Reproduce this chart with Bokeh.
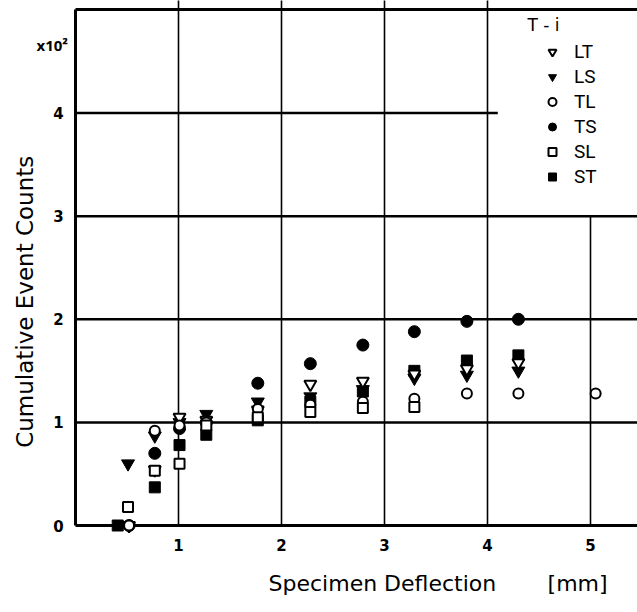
import math
from bokeh.plotting import figure
from bokeh.models import Range1d, Label, Legend, LegendItem
from bokeh.core.properties import value
from bokeh.embed import file_html
from bokeh.resources import INLINE

# ---------------- data ----------------
lt_x = [0.52, 0.77, 1.01, 1.27, 1.77, 2.28, 2.79, 3.29, 3.80, 4.30]
lt_y = [0.00, 0.54, 1.05, 1.02, 1.12, 1.37, 1.40, 1.47, 1.52, 1.58]

ls_x = [0.51, 0.77, 1.01, 1.27, 1.77, 2.28, 2.79, 3.29, 3.80, 4.30]
ls_y = [0.60, 0.87, 1.00, 1.08, 1.20, 1.25, 1.32, 1.43, 1.46, 1.50]

tl_x = [0.52, 0.77, 1.01, 1.27, 1.77, 2.28, 2.79, 3.29, 3.80, 4.30, 5.05]
tl_y = [0.00, 0.92, 0.97, 1.00, 1.13, 1.17, 1.20, 1.23, 1.28, 1.28, 1.28]

ts_x = [0.52, 0.77, 1.01, 1.27, 1.77, 2.28, 2.79, 3.29, 3.80, 4.30]
ts_y = [0.00, 0.70, 0.94, 1.00, 1.38, 1.57, 1.75, 1.88, 1.98, 2.00]

sl_x = [0.51, 0.77, 1.01, 1.27, 1.77, 2.28, 2.79, 3.29]
sl_y = [0.18, 0.53, 0.60, 0.97, 1.05, 1.10, 1.14, 1.15]

st_x = [0.41, 0.77, 1.01, 1.27, 1.77, 2.28, 2.79, 3.29, 3.80, 4.30]
st_y = [0.00, 0.37, 0.78, 0.88, 1.02, 1.20, 1.30, 1.50, 1.60, 1.65]

x_ticks = [1, 2, 3, 4, 5]
y_ticks = [0, 1, 2, 3, 4]
x_tick_labels = ["1", "2", "3", "4", "5"]
y_tick_labels = ["0", "1", "2", "3", "4"]

# grid lines of the original sheet (some are cut short by the legend)
hgrid_y = [1, 2, 3, 4]
hgrid_x_end = [5.6, 5.6, 5.6, 4.1]
vgrid_x = [1, 2, 3, 4, 5]
vgrid_y_end = [5.1, 5.1, 5.1, 5.1, 3.0]
y_top = 5.005

x_title = "Specimen Deflection"
x_unit = "[mm]"
y_title = "Cumulative Event Counts"
y_scale = "x10\u00b2"
legend_title = "T - i"

# ---------------- figure: the frame covers the whole canvas ----------------
W, H = 637, 612
PX_X, PX_Y = 103.0, 103.1      # pixels per unit
X0_PX, Y0_PX = 75, 525         # page position of the origin
p = figure(width=W, height=H, output_backend="svg", toolbar_location=None,
           x_range=Range1d(-X0_PX / PX_X, (W - X0_PX) / PX_X),
           y_range=Range1d((Y0_PX - H) / PX_Y, Y0_PX / PX_Y),
           min_border=0)
p.outline_line_color = None
p.xaxis.visible = False
p.yaxis.visible = False
p.xgrid.grid_line_color = None
p.ygrid.grid_line_color = None
p.background_fill_color = "white"
p.border_fill_color = "white"

FONT = "DejaVu Sans"

# grid lines
p.segment(x0=[0] * len(hgrid_y), y0=hgrid_y, x1=hgrid_x_end, y1=hgrid_y,
          line_color="black", line_width=2.5)
p.segment(x0=vgrid_x, y0=[0] * len(vgrid_x), x1=vgrid_x, y1=vgrid_y_end,
          line_color="black", line_width=1.6)
# frame lines (x axis, y axis, top border)
p.segment(x0=[0, 0, 0], y0=[0, 0, y_top], x1=[5.6, 0, 5.6],
          y1=[0, y_top, y_top], line_color="black", line_width=3)

# tick labels
p.text(x=x_ticks, y=[-0.19] * len(x_ticks), text=x_tick_labels,
       text_font=value(FONT), text_font_style="bold", text_font_size="15px",
       text_align="center", text_baseline="middle", text_color="black")
p.text(x=[-0.115] * len(y_ticks), y=y_ticks, text=y_tick_labels,
       text_font=value(FONT), text_font_style="bold", text_font_size="15px",
       text_align="right", text_baseline="middle", text_color="black")

# data: filled first, open (white-filled) on top
r_ls = p.scatter(ls_x, ls_y, marker="inverted_triangle", size=13,
                 fill_color="black", line_color="black")
r_ts = p.scatter(ts_x, ts_y, marker="circle", size=12,
                 fill_color="black", line_color="black")
r_st = p.scatter(st_x, st_y, marker="square", size=11,
                 fill_color="black", line_color="black")
r_lt = p.scatter(lt_x, lt_y, marker="inverted_triangle", size=12,
                 fill_color="white", line_color="black", line_width=2)
r_tl = p.scatter(tl_x, tl_y, marker="circle", size=10,
                 fill_color="white", line_color="black", line_width=2)
r_sl = p.scatter(sl_x, sl_y, marker="square", size=10,
                 fill_color="white", line_color="black", line_width=2)

legend = Legend(items=[
    LegendItem(label="LT", renderers=[r_lt]),
    LegendItem(label="LS", renderers=[r_ls]),
    LegendItem(label="TL", renderers=[r_tl]),
    LegendItem(label="TS", renderers=[r_ts]),
    LegendItem(label="SL", renderers=[r_sl]),
    LegendItem(label="ST", renderers=[r_st]),
], location="top_right", margin=39, padding=6, spacing=0,
    glyph_width=20, glyph_height=25, label_height=25, label_width=24,
    label_standoff=12, label_text_font="Roboto", label_text_font_size="19px",
    label_text_color="black", border_line_color=None,
    background_fill_alpha=0)
p.add_layout(legend)

# texts
p.add_layout(Label(x=4.388, y=4.85, text=legend_title, text_font=FONT,
                   text_font_size="17px", text_baseline="middle",
                   text_color="black"))
p.add_layout(Label(x=-0.379, y=4.656, text=y_scale, text_font="Open Sans",
                   text_font_style="bold", text_font_size="15px",
                   text_baseline="middle", text_color="black"))
p.add_layout(Label(x=-0.495, y=2.17, text=y_title, angle=math.pi / 2,
                   text_font=FONT, text_font_size="23px",
                   text_align="center", text_baseline="middle",
                   text_color="black"))
p.add_layout(Label(x=1.874, y=-0.563, text=x_title, text_font=FONT,
                   text_font_size="22px", text_baseline="middle",
                   text_color="black"))
p.add_layout(Label(x=4.583, y=-0.563, text=x_unit, text_font=FONT,
                   text_font_size="22px", text_baseline="middle",
                   text_color="black"))

open("out.html", "w").write(file_html(p, INLINE))
